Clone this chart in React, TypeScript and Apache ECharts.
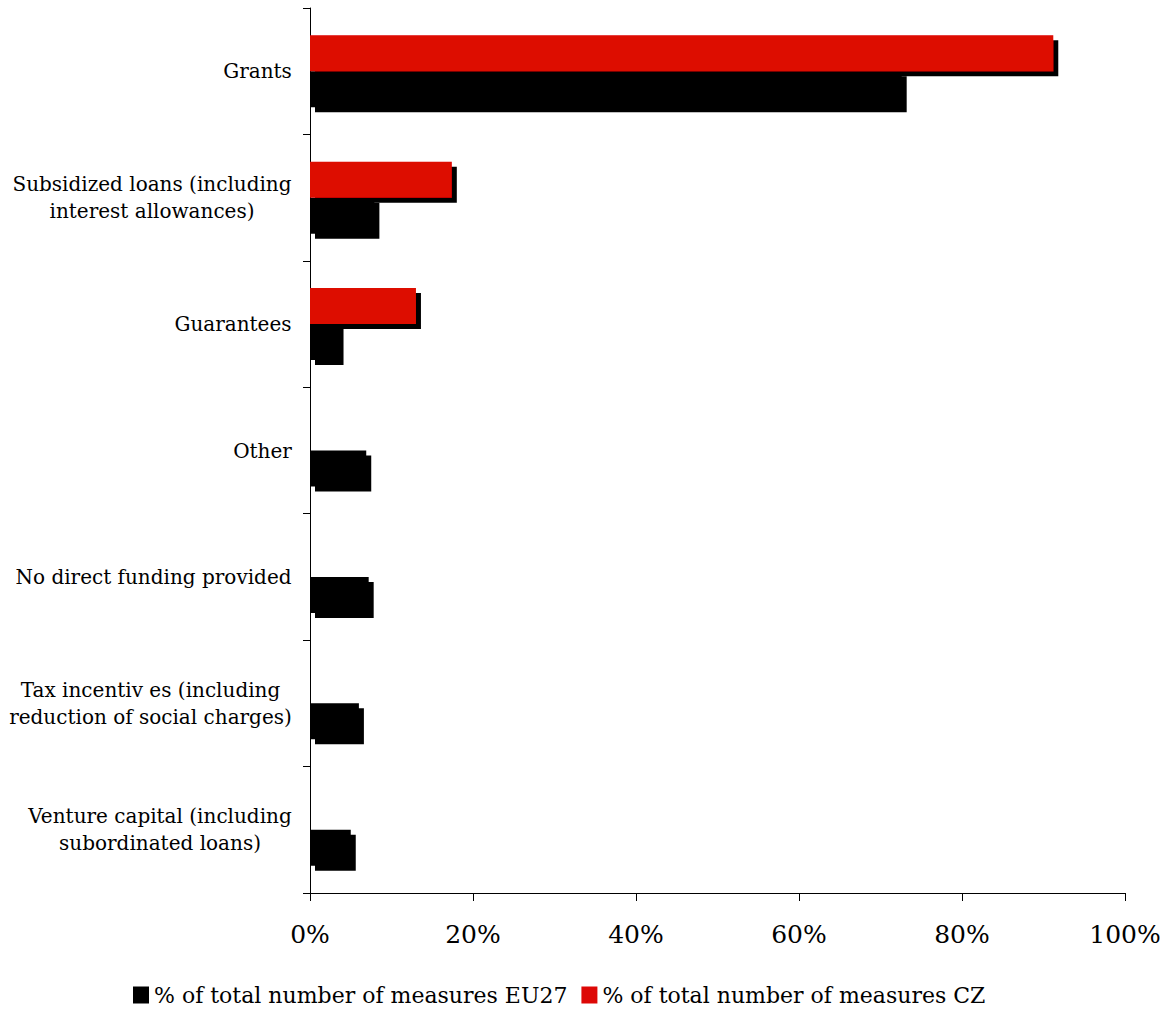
import React, { useEffect, useRef } from "react";
import * as echarts from "echarts";

const categories = [
  "Grants",
  "Subsidized loans (including\ninterest allowances)",
  "Guarantees",
  "Other",
  "No direct funding provided",
  "Tax incentiv es (including\nreduction of social charges)",
  "Venture capital (including\nsubordinated loans)",
];
const euValues = [72.6, 7.9, 3.5, 6.9, 7.2, 6.0, 5.0];
const czValues = [91.2, 17.4, 13.0, null, null, null, null];
const xTicks = [0, 20, 40, 60, 80, 100];
const seriesNames = ["% of total number of measures EU27", "% of total number of measures CZ"];

const FONT = "'DejaVu Serif', serif";
const LABEL_SIZE = 20;

function measure(text: string): number {
  const c = document.createElement("canvas").getContext("2d")!;
  c.font = `${LABEL_SIZE}px 'DejaVu Serif'`;
  return c.measureText(text).width;
}

export default function App() {
  const ref = useRef<HTMLDivElement>(null);
  useEffect(() => {
    const chart = echarts.init(ref.current!, null, { renderer: "svg" });
    const shadow = {
      shadowColor: "#000",
      shadowBlur: 0,
      shadowOffsetX: 5,
      shadowOffsetY: 5,
    };
    const rich: Record<string, any> = {};
    categories.forEach((cat, i) => {
      const w = Math.ceil(Math.max(...cat.split("\n").map(measure))) + 2;
      rich["l" + i] = {
        fontFamily: FONT,
        fontSize: LABEL_SIZE,
        color: "#000",
        width: w,
        align: "center",
        lineHeight: 27,
      };
    });
    chart.setOption({
      animation: false,
      backgroundColor: "#fff",
      grid: { left: 310, right: 44, top: 8, bottom: 122 },
      legend: {
        data: seriesNames,
        bottom: 4,
        left: 128,
        itemWidth: 16,
        itemHeight: 17,
        itemGap: 14,
        icon: "rect",
        textStyle: { fontFamily: FONT, fontSize: 22, color: "#000" },
      },
      xAxis: {
        type: "value",
        min: xTicks[0],
        max: xTicks[xTicks.length - 1],
        interval: 20,
        axisLine: { show: true, lineStyle: { color: "#000", width: 1 } },
        axisTick: { show: true, length: 8, lineStyle: { color: "#000" } },
        splitLine: { show: false },
        axisLabel: {
          formatter: (v: number) => `${v}%`,
          fontFamily: FONT,
          fontSize: 25,
          color: "#000",
          margin: 29,
        },
      },
      yAxis: {
        type: "category",
        inverse: true,
        data: categories,
        axisLine: { show: true, lineStyle: { color: "#000", width: 1 } },
        axisTick: { show: true, length: 7, lineStyle: { color: "#000" } },
        axisLabel: {
          formatter: (v: string) => {
            const i = categories.indexOf(v);
            return v.split("\n").map((l) => `{l${i}|${l}}`).join("\n");
          },
          margin: 17,
          align: "right",
          rich,
        },
      },
      series: [
        {
          name: seriesNames[1],
          type: "bar",
          data: czValues,
          barWidth: 36,
          barGap: "0%",
          itemStyle: { color: "#DD0806", ...shadow },
          z: 3,
        },
        {
          name: seriesNames[0],
          type: "bar",
          data: euValues,
          barWidth: 36,
          barGap: "0%",
          itemStyle: { color: "#000", ...shadow },
          z: 2,
        },
      ],
    });
    return () => chart.dispose();
  }, []);
  return <div ref={ref} style={{ width: 1169, height: 1015, position: "absolute", left: 0, top: 0 }} />;
}
